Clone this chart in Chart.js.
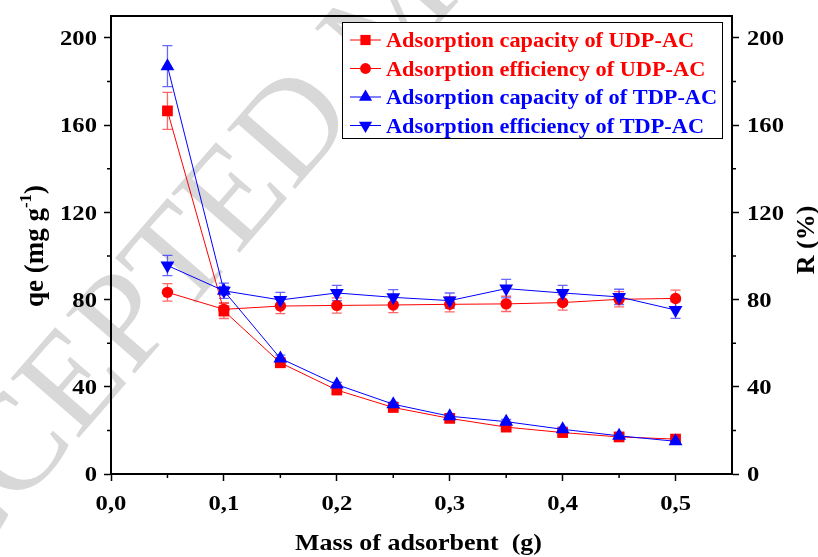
<!DOCTYPE html>
<html>
<head>
<meta charset="utf-8">
<script src="https://cdn.jsdelivr.net/npm/chart.js@4.4.1/dist/chart.umd.min.js"></script>
<style>
    html, body { margin: 0; padding: 0; background: #fff; }
    #wrap { width: 818px; height: 557px; }
</style>
</head>
<body>
<div id="wrap"><canvas id="chart" width="818" height="557"></canvas></div>
<script>
// mass of adsorbent (g)
const masses = [0.05, 0.10, 0.15, 0.20, 0.25, 0.30, 0.35, 0.40, 0.45, 0.50];

// UDP-AC
const udpCapacity = [166.5, 74.8, 51, 38.5, 30.5, 25.5, 21.5, 19, 17, 16];
const udpCapacityErr = [8.5, 3.5, 1.5, 1.5, 1.5, 1, 1, 1, 1, 1];
const udpEfficiency = [83.3, 75.5, 77, 77.3, 77.5, 77.8, 78, 78.6, 80.1, 80.5];
const udpEfficiencyErr = [4, 3, 3.5, 3.5, 3.5, 3.5, 3.5, 3.5, 3.5, 3.8];

// TDP-AC
const tdpCapacity = [187, 84, 53, 41, 32, 26.5, 24, 20.5, 17.5, 15];
const tdpCapacityErr = [9.4, 2, 1.5, 1, 1, 1, 1, 1, 1, 1];
const tdpEfficiency = [95.6, 84, 79.8, 83, 81, 79.5, 85, 83, 81.2, 75.2];
const tdpEfficiencyErr = [4.6, 3.5, 3.5, 3.5, 3.5, 3.5, 4.2, 3.5, 3.5, 3.8];

const seriesLabels = [
    'Adsorption capacity of UDP-AC',
    'Adsorption efficiency of UDP-AC',
    'Adsorption capacity of of TDP-AC',
    'Adsorption efficiency of TDP-AC'
];

const xTitle = 'Mass of adsorbent  (g)';
const yRightTitle = 'R (%)';

const RED = '#ff0000';
const BLUE = '#0000ff';
const SERIF = "'Liberation Serif', 'Times New Roman', serif";
const WIDE = 1.12; // horizontal text stretch

function points(values, errs) {
    return masses.map((m, i) => ({ x: m, y: values[i], err: errs[i] }));
}

function series(label, values, errs, color, style, radius, rotation, axis, order) {
    return {
        label: label,
        data: points(values, errs),
        yAxisID: axis,
        order: order,
        borderColor: color,
        backgroundColor: color,
        borderWidth: 1,
        pointStyle: style,
        pointRadius: radius,
        pointRotation: rotation,
        pointBorderWidth: 0,
        pointBackgroundColor: color,
        errColor: color === RED ? 'rgba(255,40,40,0.7)' : 'rgba(40,40,255,0.7)',
        tension: 0
    };
}

const datasets = [
    series(seriesLabels[0], udpCapacity, udpCapacityErr, RED, 'rect', 7.6, 0, 'y', 1),
    series(seriesLabels[1], udpEfficiency, udpEfficiencyErr, RED, 'circle', 5.7, 0, 'y1', 1),
    series(seriesLabels[2], tdpCapacity, tdpCapacityErr, BLUE, 'triangle', 8, 0, 'y', 0),
    series(seriesLabels[3], tdpEfficiency, tdpEfficiencyErr, BLUE, 'triangle', 8, 180, 'y1', 0)
];

function wideText(ctx, text, x, y, align, font, color, stretch) {
    ctx.save();
    ctx.translate(x, y);
    ctx.scale(stretch || WIDE, 1);
    ctx.font = font;
    ctx.fillStyle = color;
    ctx.textAlign = align;
    ctx.textBaseline = 'alphabetic';
    ctx.fillText(text, 0, 0);
    ctx.restore();
}

const comma = v => v.toFixed(1).replace('.', ',');

// faint diagonal watermark behind the plot
const watermark = {
    id: 'watermark',
    beforeDraw(chart) {
        const ctx = chart.ctx;
        ctx.save();
        ctx.translate(-110, 655);
        ctx.rotate(-49 * Math.PI / 180);
        ctx.font = `138px ${SERIF}`;
        ctx.fillStyle = '#d8d8d8';
        ctx.textBaseline = 'alphabetic';
        ctx.fillText('ACCEPTED MANUSCRIPT', 0, 0);
        ctx.restore();
    }
};

// vertical error bars with caps, under the markers
const errorBars = {
    id: 'errorBars',
    beforeDatasetsDraw(chart) {
        const ctx = chart.ctx;
        ctx.save();
        chart.data.datasets.forEach((ds, di) => {
            const meta = chart.getDatasetMeta(di);
            const ys = chart.scales[ds.yAxisID];
            ctx.strokeStyle = ds.errColor;
            ctx.lineWidth = 1.3;
            ds.data.forEach((p, i) => {
                const x = meta.data[i].x;
                const top = ys.getPixelForValue(p.y + p.err);
                const bot = ys.getPixelForValue(p.y - p.err);
                ctx.beginPath();
                ctx.moveTo(x, top); ctx.lineTo(x, bot);
                ctx.moveTo(x - 5, top); ctx.lineTo(x + 5, top);
                ctx.moveTo(x - 5, bot); ctx.lineTo(x + 5, bot);
                ctx.stroke();
            });
        });
        ctx.restore();
    }
};

// frame top, minor ticks, tick labels, titles and the boxed legend
const decorations = {
    id: 'decorations',
    afterDraw(chart) {
        const ctx = chart.ctx;
        const a = chart.chartArea;
        const xs = chart.scales.x, yl = chart.scales.y, yr = chart.scales.y1;
        ctx.save();
        ctx.strokeStyle = '#000';
        ctx.lineWidth = 2;
        ctx.beginPath();
        ctx.moveTo(a.left - 1, a.top);
        ctx.lineTo(a.right + 1, a.top);
        ctx.stroke();

        ctx.lineWidth = 1.5;
        ctx.beginPath();
        [0.05, 0.15, 0.25, 0.35, 0.45].forEach(v => {
            const x = xs.getPixelForValue(v);
            ctx.moveTo(x, a.bottom); ctx.lineTo(x, a.bottom + 4);
        });
        [20, 60, 100, 140, 180].forEach(v => {
            const y1 = yl.getPixelForValue(v);
            ctx.moveTo(a.left, y1); ctx.lineTo(a.left - 4, y1);
            const y2 = yr.getPixelForValue(v);
            ctx.moveTo(a.right, y2); ctx.lineTo(a.right + 4, y2);
        });
        ctx.stroke();

        // tick labels
        const tf = `bold 22px ${SERIF}`;
        xs.ticks.forEach(t => {
            wideText(ctx, comma(t.value), xs.getPixelForValue(t.value), a.bottom + 36, 'center', tf, '#000');
        });
        yl.ticks.forEach(t => {
            wideText(ctx, String(t.value), a.left - 14, yl.getPixelForValue(t.value) + 7.4, 'right', tf, '#000');
        });
        yr.ticks.forEach(t => {
            wideText(ctx, String(t.value), a.right + 15, yr.getPixelForValue(t.value) + 7.4, 'left', tf, '#000');
        });

        // x title
        wideText(ctx, xTitle, (a.left + a.right) / 2 - 3, 550, 'center', `bold 23px ${SERIF}`, '#000', 1.13);

        // left title with superscript
        ctx.fillStyle = '#000';
        ctx.textBaseline = 'alphabetic';
        const big = `bold 27px ${SERIF}`, small = `bold 17px ${SERIF}`;
        ctx.font = big;
        const p1 = 'qe (mg g', p3 = ')';
        const w1 = ctx.measureText(p1).width, w3 = ctx.measureText(p3).width;
        ctx.font = small;
        const w2 = ctx.measureText('-1').width;
        const total = w1 + w2 + w3;
        ctx.save();
        ctx.translate(43, 246);
        ctx.rotate(-Math.PI / 2);
        let x0 = -total / 2;
        ctx.font = big; ctx.fillText(p1, x0, 0);
        ctx.font = small; ctx.fillText('-1', x0 + w1, -12);
        ctx.font = big; ctx.fillText(p3, x0 + w1 + w2, 0);
        ctx.restore();

        ctx.save();
        ctx.translate(814, 240);
        ctx.rotate(-Math.PI / 2);
        ctx.font = `bold 26px ${SERIF}`;
        ctx.textAlign = 'center';
        ctx.fillText(yRightTitle, 0, 0);
        ctx.restore();

        // legend
        ctx.lineWidth = 1;
        ctx.strokeStyle = '#000';
        ctx.fillStyle = '#fff';
        ctx.fillRect(342, 22, 380, 116);
        ctx.strokeRect(342.5, 22.5, 380, 116);
        const rowY = [40, 68.5, 97, 125.5];
        chart.data.datasets.forEach((ds, i) => {
            const y = rowY[i];
            ctx.strokeStyle = ds.borderColor;
            ctx.lineWidth = 1;
            ctx.beginPath();
            ctx.moveTo(350, y); ctx.lineTo(381, y);
            ctx.stroke();
            ctx.fillStyle = ds.borderColor;
            Chart.helpers.drawPoint(ctx, {
                pointStyle: ds.pointStyle,
                radius: ds.pointRadius * 0.95,
                rotation: ds.pointRotation,
                borderWidth: 0
            }, 365.5, y);
            wideText(ctx, ds.label, 386, y + 7, 'left', `bold 20px ${SERIF}`, ds.borderColor, 1.116);
        });
        ctx.restore();
    }
};

const yAxis = (pos, width) => ({
    type: 'linear',
    position: pos,
    min: 0,
    max: 210,
    ticks: { display: false, stepSize: 40, includeBounds: false },
    grid: { drawOnChartArea: false, tickLength: 7, tickWidth: 1.5, tickColor: '#000' },
    border: { display: true, color: '#000', width: 2 },
    afterFit(scale) { scale.width = width; }
});

new Chart(document.getElementById('chart'), {
    type: 'line',
    data: { datasets: datasets },
    options: {
        responsive: false,
        animation: false,
        layout: { padding: { top: 16, left: 0, right: 0, bottom: 0 } },
        plugins: { legend: { display: false }, tooltip: { enabled: false } },
        scales: {
            x: {
                type: 'linear',
                min: 0,
                max: 0.55,
                ticks: { display: false, stepSize: 0.1, includeBounds: false },
                grid: { drawOnChartArea: false, tickLength: 7, tickWidth: 1.5, tickColor: '#000' },
                border: { display: true, color: '#000', width: 2 },
                afterFit(scale) { scale.height = 83; }
            },
            y: yAxis('left', 111),
            y1: yAxis('right', 86)
        }
    },
    plugins: [watermark, errorBars, decorations]
});
</script>
</body>
</html>
